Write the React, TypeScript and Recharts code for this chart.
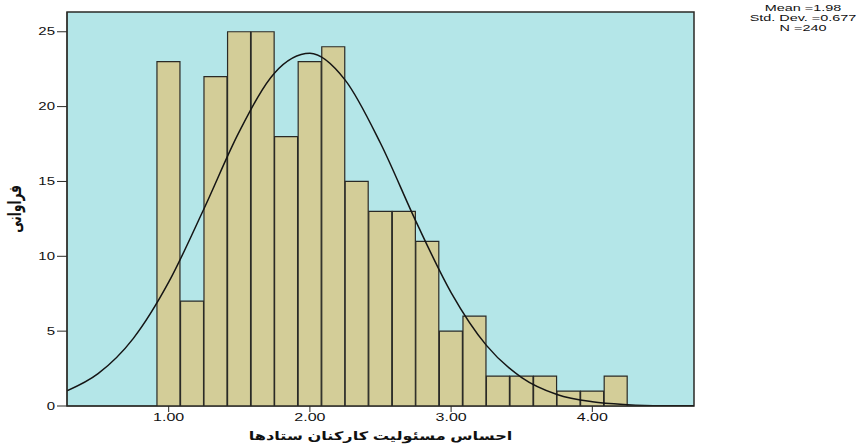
import {
  ComposedChart,
  Bar,
  Line,
  XAxis,
  YAxis,
  CartesianGrid,
  ReferenceArea,
} from "recharts";

// histogram bins (centres) and frequencies
const binCenters = [
  1.0, 1.167, 1.333, 1.5, 1.667, 1.833, 2.0, 2.167, 2.333, 2.5, 2.667, 2.833,
  3.0, 3.167, 3.333, 3.5, 3.667, 3.833, 4.0, 4.167,
];
const counts = [23, 7, 22, 25, 25, 18, 23, 24, 15, 13, 13, 11, 5, 6, 2, 2, 2, 1, 1, 2];

// normal curve
const curveX = [
  0.28, 0.5, 0.75, 1.0, 1.25, 1.5, 1.75, 2.0, 2.25, 2.5, 2.75, 3.0, 3.25, 3.5,
  3.75, 4.0, 4.25, 4.5, 4.72,
];
const curveY = [
  1.01, 2.16, 4.52, 8.27, 13.18, 18.33, 22.25, 23.56, 21.77, 17.55, 12.35, 7.58,
  4.05, 1.9, 0.77, 0.28, 0.09, 0.02, 0.01,
];

const xTicks = [1, 2, 3, 4];
const yTicks = [0, 5, 10, 15, 20, 25];
const statsLines = ["Mean =1.98", "Std. Dev. =0.677", "N =240"];
const xTitle = "احساس مسئولیت کارکنان ستادها";
const yTitle = "فراوانی";

const X_DOMAIN: [number, number] = [0.28, 4.72];
const Y_DOMAIN: [number, number] = [0, 26.32];

const FONT = "'Liberation Sans', 'DejaVu Sans', Arial, sans-serif";
const BG = "#b4e6e8";
const BAR_FILL = "#d3cd98";
const EDGE = "#2a2a26";

const binRows = binCenters.map((x, i) => ({ x, count: counts[i] }));
const curveRows = curveX.map((x, i) => ({ x, y: curveY[i] }));

const YTick = (p: any) => (
  <g transform={`translate(${p.x},${p.y}) scale(1.5,1)`}>
    <text textAnchor="end" dy="0.35em" fontSize={10} fill="#111" fontFamily={FONT}>
      {p.payload.value}
    </text>
  </g>
);

const XTick = (p: any) => (
  <g transform={`translate(${p.x},${p.y}) scale(1.6,1)`}>
    <text textAnchor="middle" dy="0.71em" fontSize={10} fill="#111" fontFamily={FONT}>
      {Number(p.payload.value).toFixed(2)}
    </text>
  </g>
);

const XTitle = (p: any) => {
  const vb = p.viewBox;
  const cx = vb.x + vb.width / 2;
  const cy = vb.y + 34;
  return (
    <g transform={`translate(${cx},${cy}) scale(1.35,1)`}>
      <text textAnchor="middle" fontSize={12} fontWeight="bold" fill="#111" fontFamily={FONT}>
        {xTitle}
      </text>
    </g>
  );
};

const YTitle = (p: any) => {
  const vb = p.viewBox;
  const cx = vb.x + 15;
  const cy = vb.y + vb.height / 2;
  return (
    <g transform={`translate(${cx},${cy}) scale(1.5,1) rotate(-90)`}>
      <text textAnchor="middle" dy="0.35em" fontSize={12} fontWeight="bold" fill="#111" fontFamily={FONT}>
        {yTitle}
      </text>
    </g>
  );
};

export default function App() {
  return (
    <div style={{ position: "absolute", left: 0, top: 0, width: 866, height: 445, background: "#fff" }}>
      <ComposedChart
        width={866}
        height={445}
        data={binRows}
        margin={{ top: 12, right: 172, bottom: 0, left: 0 }}
        barCategoryGap={0}
        barGap={0}
      >
        <CartesianGrid fill={BG} horizontal={false} vertical={false} />
        <XAxis
          type="number"
          dataKey="x"
          domain={X_DOMAIN}
          allowDataOverflow
          ticks={xTicks}
          height={39}
          tickSize={6}
          tickMargin={2}
          stroke={EDGE}
          tick={<XTick />}
          label={<XTitle />}
        />
        <XAxis xAxisId="curve" type="number" dataKey="x" domain={X_DOMAIN} allowDataOverflow hide />
        <YAxis
          type="number"
          domain={Y_DOMAIN}
          allowDataOverflow
          ticks={yTicks}
          width={67}
          tickSize={10}
          tickMargin={2}
          stroke={EDGE}
          tick={<YTick />}
          label={<YTitle />}
        />
        <Bar
          dataKey="count"
          fill={BAR_FILL}
          stroke={EDGE}
          strokeWidth={1.2}
          isAnimationActive={false}
        />
        <Line
          data={curveRows}
          xAxisId="curve"
          dataKey="y"
          type="monotone"
          stroke="#151515"
          strokeWidth={1.5}
          dot={false}
          isAnimationActive={false}
        />
        <ReferenceArea
          x1={X_DOMAIN[0]}
          x2={X_DOMAIN[1]}
          y1={Y_DOMAIN[0]}
          y2={Y_DOMAIN[1]}
          fill="none"
          stroke={EDGE}
          strokeWidth={1.5}
        />
      </ComposedChart>
      <div
        style={{
          position: "absolute",
          left: 743,
          top: 3,
          width: 120,
          textAlign: "center",
          fontFamily: FONT,
          fontSize: 9,
          lineHeight: "10px",
          color: "#111",
          transform: "scaleX(1.6)",
        }}
      >
        {statsLines.map((s) => (
          <div key={s}>{s}</div>
        ))}
      </div>
    </div>
  );
}
